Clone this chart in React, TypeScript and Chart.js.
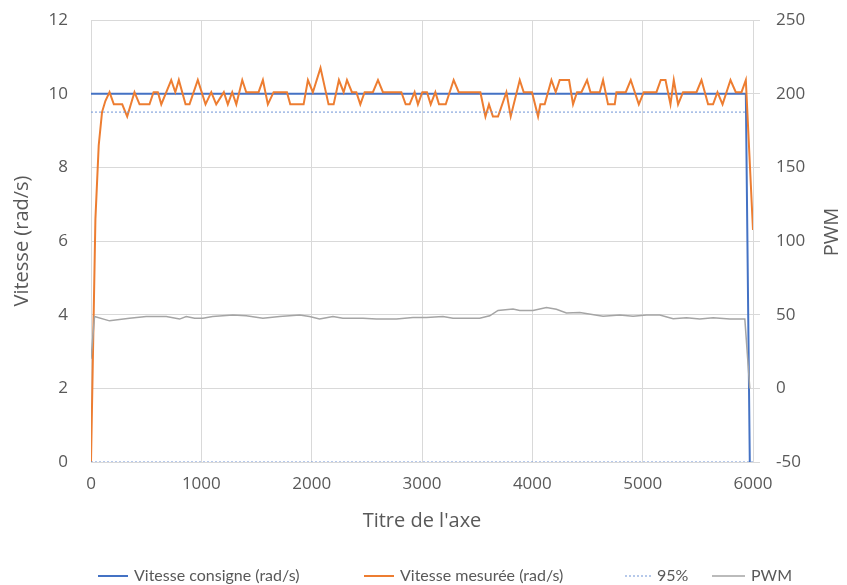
import React, { useEffect, useRef } from "react";
import { Chart, registerables } from "chart.js";

Chart.register(...registerables);

// ---- Data ----
const xTickValues = [0, 1000, 2000, 3000, 4000, 5000, 6000];

const consigneTimes = [0, 5935, 5971];
const consigneValues = [10, 10, 0];

const measuredTimes = [
  0, 40, 70, 100, 130, 168, 207, 238, 283, 328, 394, 440, 530, 567, 606, 637, 727, 764, 796, 857,
  893, 968, 1038, 1090, 1135, 1204, 1240, 1280, 1317, 1371, 1407, 1519, 1558, 1603, 1655, 1776,
  1806, 1927, 1966, 2011, 2080, 2153, 2199, 2247, 2290, 2320, 2365, 2405, 2441, 2480, 2555, 2601,
  2646, 2813, 2852, 2888, 2933, 2963, 3003, 3045, 3079, 3121, 3154, 3215, 3287, 3333, 3529, 3575,
  3607, 3643, 3689, 3765, 3804, 3886, 3922, 3997, 4052, 4073, 4112, 4173, 4212, 4248, 4333, 4369,
  4405, 4445, 4496, 4527, 4611, 4641, 4686, 4747, 4762, 4847, 4892, 4965, 5010, 5125, 5164, 5207,
  5252, 5282, 5321, 5366, 5488, 5533, 5593, 5638, 5678, 5724, 5796, 5844, 5896, 5935, 6000,
];
const measuredValues = [
  0, 6.6, 8.6, 9.5, 9.8, 10.04, 9.71, 9.71, 9.71, 9.38, 10.04, 9.71, 9.71, 10.04, 10.04, 9.71, 10.37, 10.04, 10.37, 9.71,
  9.71, 10.37, 9.71, 10.04, 9.71, 10.04, 9.71, 10.04, 9.71, 10.37, 10.04, 10.04, 10.37, 9.71, 10.04, 10.04,
  9.71, 9.71, 10.37, 10.04, 10.7, 9.71, 9.71, 10.37, 10.04, 10.37, 10.04, 10.04, 9.71, 10.04, 10.04, 10.37,
  10.04, 10.04, 9.71, 9.71, 10.04, 9.71, 10.04, 10.04, 9.71, 10.04, 9.71, 9.71, 10.37, 10.04, 10.04, 9.38,
  9.71, 9.38, 9.38, 10.04, 9.38, 10.37, 10.04, 10.04, 9.38, 9.71, 9.71, 10.37, 10.04, 10.37, 10.37, 9.71,
  10.04, 10.04, 10.37, 10.04, 10.04, 10.37, 9.71, 9.71, 10.04, 10.04, 10.37, 9.71, 10.04, 10.04, 10.37, 10.37,
  9.71, 10.37, 9.71, 10.04, 10.04, 10.37, 9.71, 9.71, 10.04, 9.71, 10.37, 10.04, 10.04, 10.37, 6.3,
];

const seuilTimes = [0, 5935, 5935, 0, 6000];
const seuilValues = [9.5, 9.5, null, 0, 0];

const pwmTimes = [
  0, 32, 168, 349, 500, 682, 803, 863, 939, 1014, 1102, 1286, 1407, 1558, 1709, 1891, 1981, 2072,
  2133, 2193, 2283, 2465, 2586, 2768, 2918, 3040, 3190, 3281, 3523, 3614, 3689, 3825, 3886, 4006,
  4128, 4218, 4309, 4430, 4641, 4792, 4913, 5035, 5155, 5276, 5397, 5518, 5639, 5790, 5926, 5971,
];
const pwmValues = [
  20, 48.7, 45.8, 47.6, 48.7, 48.7, 47, 48.7, 47.6, 47.6, 48.7, 49.8, 49.2, 47.6, 48.7, 49.8, 48.7, 47,
  47.9, 48.7, 47.6, 47.6, 47, 47, 48.1, 48.1, 48.7, 47.6, 47.6, 49.2, 52.9, 53.9, 52.9, 52.9,
  54.8, 53.7, 51.2, 51.4, 48.9, 49.8, 48.9, 49.8, 49.8, 47.2, 47.9, 47, 47.9, 47, 47, 0,
];

const seriesLabels = ["Vitesse consigne (rad/s)", "Vitesse mesurée (rad/s)", "95%", "PWM"];
const xTitle = "Titre de l'axe";
const yTitle = "Vitesse (rad/s)";
const y1Title = "PWM";

const toPoints = (xs: number[], ys: (number | null)[]) => xs.map((x, i) => ({ x, y: ys[i] }));

const TEXT = "#595959";
const GRID = "#d9d9d9";
const TICK_FONT = { family: "'Open Sans', sans-serif", size: 17 };
const TITLE_FONT = { family: "'Open Sans', sans-serif", size: 20 };

const rightTitlePlugin = {
  id: "rightTitle",
  afterDraw(chart: any) {
    const { ctx, chartArea } = chart;
    ctx.save();
    ctx.translate(832, (chartArea.top + chartArea.bottom) / 2 - 9);
    ctx.rotate(-Math.PI / 2);
    ctx.font = "20px 'Open Sans', sans-serif";
    ctx.fillStyle = TEXT;
    ctx.textAlign = "center";
    ctx.textBaseline = "middle";
    ctx.fillText(y1Title, 0, 0);
    ctx.restore();
  },
};

const legendPlugin = {
  id: "customLegend",
  afterDraw(chart: any) {
    const { ctx } = chart;
    const starts = [98, 364, 625, 712];
    const lineLens = [30, 30, 26, 33];
    const y = 576;
    ctx.save();
    ctx.font = "16px Lato, sans-serif";
    ctx.textBaseline = "middle";
    ctx.textAlign = "left";
    chart.data.datasets.forEach((ds: any, i: number) => {
      const x0 = starts[i];
      ctx.beginPath();
      ctx.strokeStyle = ds.borderColor;
      ctx.lineWidth = ds.borderWidth;
      ctx.setLineDash(ds.borderDash || []);
      ctx.moveTo(x0, y);
      ctx.lineTo(x0 + lineLens[i], y);
      ctx.stroke();
      ctx.setLineDash([]);
      ctx.fillStyle = TEXT;
      ctx.fillText(ds.label, x0 + lineLens[i] + 6, y);
    });
    ctx.restore();
  },
};

const zeroVerticalPadding = (s: any) => {
  s.paddingTop = 0;
  s.paddingBottom = 0;
};

export default function App() {
  const ref = useRef<HTMLCanvasElement>(null);

  useEffect(() => {
    document.body.style.margin = "0";
    const canvas = ref.current;
    if (!canvas) return;
    const chart = new Chart(canvas, {
      type: "line",
      data: {
        datasets: [
          {
            label: seriesLabels[0],
            data: toPoints(consigneTimes, consigneValues),
            borderColor: "#4472C4",
            borderWidth: 2,
            pointRadius: 0,
            yAxisID: "y",
            order: 3,
          },
          {
            label: seriesLabels[1],
            data: toPoints(measuredTimes, measuredValues),
            borderColor: "#ED7D31",
            borderWidth: 2,
            pointRadius: 0,
            yAxisID: "y",
            order: 2,
          },
          {
            label: seriesLabels[2],
            data: toPoints(seuilTimes, seuilValues),
            borderColor: "#6f93d6",
            borderWidth: 1,
            borderDash: [2, 2],
            pointRadius: 0,
            spanGaps: false,
            yAxisID: "y",
            order: 1,
          },
          {
            label: seriesLabels[3],
            data: toPoints(pwmTimes, pwmValues),
            borderColor: "#A5A5A5",
            borderWidth: 1.5,
            pointRadius: 0,
            yAxisID: "y1",
            order: 0,
          },
        ] as any,
      },
      options: {
        animation: false,
        responsive: false,
        layout: { padding: { top: 20, left: 0, right: 0, bottom: 0 } },
        plugins: {
          legend: { display: false },
          tooltip: { enabled: false },
        },
        elements: { line: { tension: 0 } },
        scales: {
          x: {
            type: "linear",
            min: 0,
            max: 6000,
            afterBuildTicks: (s: any) => {
              s.ticks = xTickValues.map((v) => ({ value: v }));
            },
            ticks: {
              font: TICK_FONT,
              color: TEXT,
              padding: 12,
              maxRotation: 0,
              callback: (v: any) => String(v),
            },
            grid: { color: GRID, drawTicks: false },
            border: { display: false },
            title: {
              display: true,
              text: xTitle,
              font: TITLE_FONT,
              color: TEXT,
              padding: { top: 0, bottom: 52 },
            },
            afterFit: (s: any) => {
              s.height = 123;
              s.paddingLeft = 0;
              s.paddingRight = 0;
            },
          },
          y: {
            position: "left",
            min: 0,
            max: 12,
            ticks: { stepSize: 2, font: TICK_FONT, color: TEXT, padding: 23 },
            grid: { color: GRID, drawTicks: false },
            border: { display: false },
            title: {
              display: true,
              text: yTitle,
              font: TITLE_FONT,
              color: TEXT,
              padding: { top: 10, bottom: 0 },
            },
            afterFit: (s: any) => {
              s.width = 91;
              zeroVerticalPadding(s);
            },
          },
          y1: {
            position: "right",
            min: -50,
            max: 250,
            ticks: { stepSize: 50, font: TICK_FONT, color: TEXT, padding: 16 },
            grid: { color: GRID, drawOnChartArea: false, drawTicks: true, tickLength: 7 },
            border: { display: true, color: GRID },
            afterFit: (s: any) => {
              s.width = 94;
              zeroVerticalPadding(s);
            },
          },
        },
      } as any,
      plugins: [rightTitlePlugin, legendPlugin],
    });
    return () => chart.destroy();
  }, []);

  return (
    <div style={{ width: 847, height: 585 }}>
      <canvas ref={ref} width={847} height={585} style={{ display: "block" }} />
    </div>
  );
}
